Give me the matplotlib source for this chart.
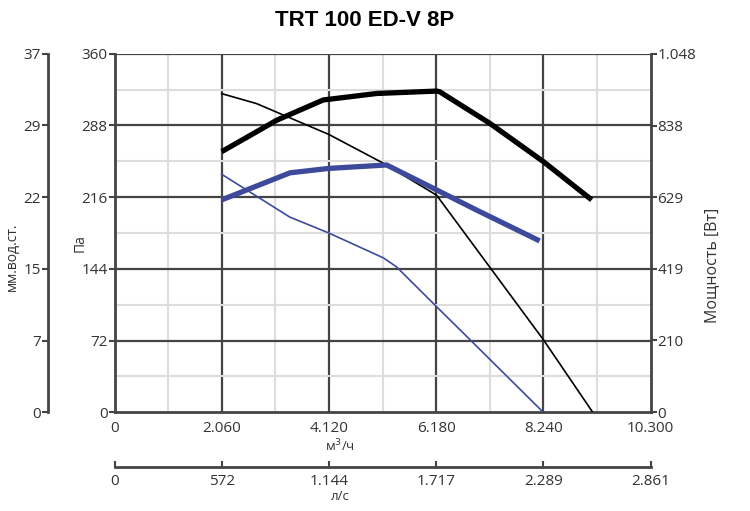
import numpy as np
import matplotlib
matplotlib.use("Agg")
import matplotlib.pyplot as plt

plt.rcParams['font.family'] = ['Open Sans', 'DejaVu Sans']

# x in m3/h, pressure in Pa, power in W
pa_black_x = [2060, 2730, 4120, 5170, 6190, 8240, 9190]
pa_black_y = [320, 310, 279, 250, 218, 73, 0]

pa_blue_x = [2060, 3370, 4120, 5170, 5420, 6190, 6830, 8240]
pa_blue_y = [239, 196, 180, 155, 146, 106, 73, 0]

w_black_x = [2060, 3120, 4010, 5040, 6190, 6250, 7210, 8240, 9170]
w_black_y = [762, 854, 913, 932, 939, 937, 845, 733, 621]

w_blue_x = [2060, 3370, 4120, 5230, 6190, 6960, 8170]
w_blue_y = [621, 700, 713, 723, 650, 591, 501]

x_ticks = [0, 2060, 4120, 6180, 8240, 10300]
x_labels = ['0', '2.060', '4.120', '6.180', '8.240', '10.300']
ls_labels = ['0', '572', '1.144', '1.717', '2.289', '2.861']
pa_ticks = [0, 72, 144, 216, 288, 360]
mm_labels = ['0', '7', '15', '22', '29', '37']
w_ticks = [0, 210, 419, 629, 838, 1048]
w_labels = ['0', '210', '419', '629', '838', '1.048']

dark = '#444444'
light = '#dddddd'
txt = '#333333'
blue = '#3d4a9c'
fs = 11

fig = plt.figure(figsize=(7.5, 5.11), dpi=100)
L, R = 114.5 / 750, 650.5 / 750
B, T = 1 - 412.3 / 511, 1 - 53.8 / 511
ax = fig.add_axes([L, B, R - L, T - B])
ax.set_xlim(0, 10300)
ax.set_ylim(0, 360)

# grid
for xv in np.arange(1030, 10300, 1030):
    major = xv in x_ticks
    ax.axvline(xv, color=dark if major else light, lw=1.6 if major else 1.5, zorder=1)
for yv in np.arange(36, 361, 36):
    major = yv in pa_ticks
    ax.axhline(yv, color=dark if major else light, lw=1.6 if major else 1.5, zorder=1)

for s in ['left', 'right', 'bottom']:
    ax.spines[s].set_color(dark)
    ax.spines[s].set_linewidth(2)
ax.spines['top'].set_visible(False)

ax.set_xticks(x_ticks)
ax.set_xticklabels(x_labels)
ax.set_yticks(pa_ticks)
ax.tick_params(colors=dark, labelcolor=txt, labelsize=fs, length=4, width=1.5, pad=1)
ax.tick_params(axis='x', length=0, pad=6)

ax.plot(pa_black_x, pa_black_y, color='black', lw=1.2, zorder=3)
ax.plot(pa_blue_x, pa_blue_y, color=blue, lw=1.2, zorder=3)

axw = ax.twinx()
axw.set_ylim(0, 1048)
axw.set_yticks(w_ticks)
axw.set_yticklabels(w_labels)
axw.tick_params(colors=dark, labelcolor=txt, labelsize=fs, length=4, width=1.5, pad=1)
for s in axw.spines.values():
    s.set_visible(False)
axw.plot(w_black_x, w_black_y, color='black', lw=3.8, zorder=4, solid_capstyle='butt')
axw.plot(w_blue_x, w_blue_y, color=blue, lw=3.8, zorder=4, solid_capstyle='butt')

# mm water column axis on the far left
axm = fig.add_axes([48 / 750, B, 0.001, T - B])
axm.set_ylim(0, 360)
axm.set_xticks([])
axm.set_yticks(pa_ticks)
axm.set_yticklabels(mm_labels)
for s in ['right', 'top', 'bottom']:
    axm.spines[s].set_visible(False)
axm.spines['left'].set_color(dark)
axm.spines['left'].set_linewidth(2)
axm.tick_params(colors=dark, labelcolor=txt, labelsize=fs, length=4, width=1.5, pad=1)
axm.patch.set_visible(False)

# l/s axis below
axl = fig.add_axes([L, 1 - 467 / 511, R - L, 0.001])
axl.set_xlim(0, 10300)
axl.set_yticks([])
axl.set_xticks(x_ticks)
axl.set_xticklabels(ls_labels)
for s in ['left', 'right', 'top']:
    axl.spines[s].set_visible(False)
axl.spines['bottom'].set_color(dark)
axl.spines['bottom'].set_linewidth(2)
axl.tick_params(colors=dark, labelcolor=txt, labelsize=fs, length=4, width=1.5, pad=5,
                direction='in')
axl.patch.set_visible(False)

# axis titles
fig.text(12 / 750, 1 - 257 / 511, 'мм.вод.ст.', rotation=90, ha='center', va='center',
         color=txt, fontsize=10)
fig.text(80 / 750, 1 - 243 / 511, 'Па', rotation=90, ha='center', va='center',
         color=txt, fontsize=10)
fig.text(712 / 750, 1 - 265 / 511, 'Мощность [Вт]', rotation=90, ha='center', va='center',
         color=txt, fontsize=11.5)
fig.text(340 / 750, 1 - 446 / 511, 'м$^3$/ч', ha='center', va='center', color=txt, fontsize=9.5)
fig.text(340 / 750, 1 - 496 / 511, 'л/с', ha='center', va='center', color=txt, fontsize=9.5)

fig.text(365 / 750, 1 - 20 / 511, 'TRT 100 ED-V 8P', ha='center', va='center',
         fontsize=16, fontweight='bold', family=['Liberation Sans', 'DejaVu Sans'])

fig.savefig('out.png', dpi=100)
